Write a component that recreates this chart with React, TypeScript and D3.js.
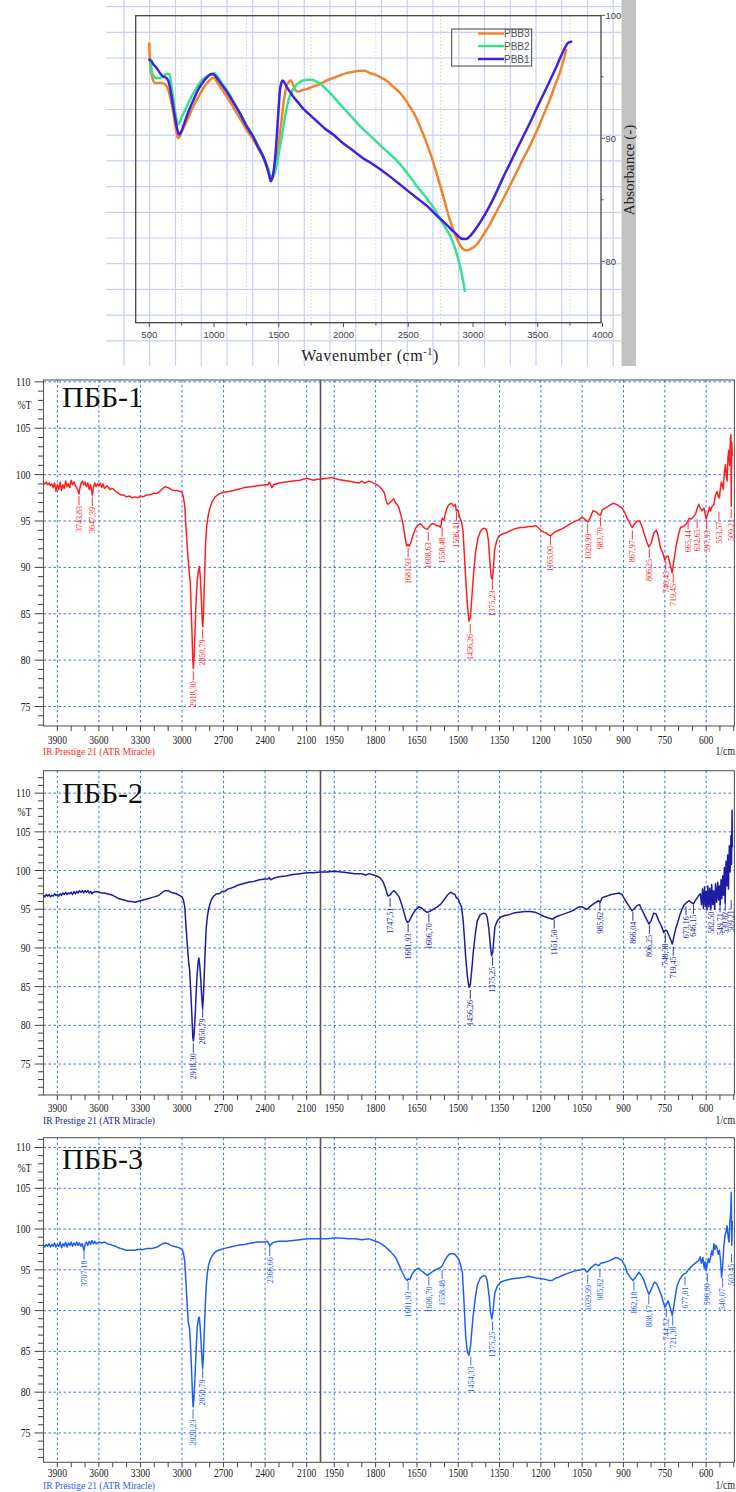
import React from 'react';
import * as d3 from 'd3';

type Pt = [number, number];

// ---------- top chart (absorbance, smoothed) ----------
const pbb3: Pt[] = [
  [499, 97.7], [506, 96.2], [515, 95.3], [524, 94.9], [545, 94.5], [570, 94.5], [596, 94.5], [620, 94.4], [640, 94.1],
  [660, 93.4], [686, 92.0], [706, 90.7], [718, 90.1], [725, 90.0], [733, 90.1], [750, 90.5], [780, 91.2], [815, 92.0],
  [850, 92.8], [892, 93.6], [925, 94.2], [956, 94.6], [990, 94.9], [1005, 94.9], [1021, 94.6], [1060, 94.0], [1098, 93.4],
  [1150, 92.5], [1201, 91.6], [1250, 90.7], [1303, 89.9], [1340, 89.2], [1380, 88.4], [1419, 87.3], [1434, 86.9],
  [1444, 86.8], [1455, 87.0], [1470, 87.6], [1490, 88.9], [1509, 90.4], [1528, 92.1], [1547, 93.6], [1565, 94.4],
  [1580, 94.6], [1593, 94.7], [1605, 94.5], [1616, 94.2], [1630, 93.9], [1650, 93.8], [1680, 93.9], [1714, 94.0],
  [1765, 94.2], [1817, 94.4], [1870, 94.7], [1920, 94.9], [1970, 95.1], [2022, 95.3], [2075, 95.4], [2125, 95.5],
  [2165, 95.5], [2203, 95.3], [2240, 95.2], [2280, 95.0], [2330, 94.7], [2383, 94.2], [2435, 93.7], [2486, 93.0],
  [2540, 92.1], [2589, 91.0], [2635, 89.8], [2679, 88.5], [2720, 87.1], [2756, 85.8], [2790, 84.5], [2820, 83.4],
  [2850, 82.5], [2877, 81.8], [2900, 81.3], [2923, 81.0], [2945, 80.9], [2962, 80.9], [2980, 81.0], [3000, 81.1],
  [3040, 81.5], [3077, 82.1], [3130, 83.0], [3180, 84.0], [3230, 85.0], [3283, 86.1], [3335, 87.2], [3386, 88.3],
  [3440, 89.4], [3489, 90.5], [3540, 91.8], [3592, 93.1], [3630, 94.2], [3669, 95.3], [3695, 96.2], [3720, 97.2],
];
const pbb2: Pt[] = [
  [506, 96.3], [515, 95.8], [522, 95.3], [532, 95.1], [550, 94.9], [570, 94.9], [590, 94.95], [609, 95.0], [625, 95.2],
  [640, 95.25], [655, 95.2], [664, 94.8], [673, 94.1], [686, 93.2], [699, 92.2], [710, 91.5], [719, 91.1], [727, 91.2],
  [738, 91.4], [750, 91.7], [790, 92.6], [827, 93.4], [865, 94.1], [904, 94.7], [940, 95.0], [981, 95.25], [1000, 95.3],
  [1021, 95.1], [1065, 94.4], [1111, 93.7], [1160, 92.8], [1213, 91.8], [1265, 90.8], [1316, 89.9], [1355, 89.1],
  [1393, 88.2], [1415, 87.6], [1431, 87.1], [1449, 86.8], [1462, 87.0], [1475, 87.4], [1497, 88.6], [1522, 90.1],
  [1547, 91.7], [1573, 93.0], [1600, 93.8], [1624, 94.2], [1655, 94.5], [1689, 94.7], [1720, 94.75], [1753, 94.75],
  [1785, 94.65], [1817, 94.45], [1870, 93.95], [1920, 93.4], [1970, 92.8], [2022, 92.2], [2075, 91.6], [2125, 91.0],
  [2165, 90.6], [2203, 90.23], [2250, 89.77], [2306, 89.2], [2360, 88.7], [2409, 88.2], [2460, 87.6], [2511, 86.9],
  [2560, 86.2], [2614, 85.5], [2665, 84.8], [2717, 84.0], [2760, 83.2], [2794, 82.6], [2830, 81.9], [2859, 81.1],
  [2880, 80.4], [2897, 79.7], [2912, 79.0], [2923, 78.4], [2930, 78.0], [2936, 77.6],
];
const pbb1: Pt[] = [
  [501, 96.4], [515, 96.3], [532, 96.0], [550, 95.8], [570, 95.5], [590, 95.2], [609, 95.0], [625, 94.95], [640, 94.8],
  [652, 94.5], [660, 94.1], [673, 93.3], [686, 92.5], [700, 91.6], [712, 90.9], [722, 90.5], [730, 90.3], [740, 90.4],
  [763, 91.0], [800, 92.1], [840, 93.1], [880, 94.0], [917, 94.6], [950, 95.0], [976, 95.2], [995, 95.2], [1007, 95.1],
  [1050, 94.5], [1098, 93.8], [1150, 92.9], [1201, 92.0], [1250, 91.0], [1303, 90.1], [1340, 89.3], [1380, 88.5],
  [1405, 87.8], [1419, 87.3], [1430, 86.8], [1437, 86.5], [1445, 86.6], [1457, 87.1], [1470, 88.2], [1483, 89.9],
  [1496, 92.0], [1509, 93.9], [1520, 94.5], [1529, 94.7], [1540, 94.6], [1560, 94.2], [1585, 93.8], [1611, 93.4],
  [1650, 92.9], [1689, 92.4], [1740, 91.9], [1792, 91.4], [1855, 90.8], [1920, 90.3], [1985, 89.7], [2048, 89.2],
  [2110, 88.7], [2177, 88.2], [2203, 88.05], [2280, 87.5], [2357, 86.9], [2435, 86.25], [2511, 85.6], [2590, 84.95],
  [2665, 84.3], [2730, 83.6], [2794, 83.0], [2840, 82.5], [2871, 82.2], [2900, 81.9], [2923, 81.8], [2945, 81.8],
  [2962, 81.9], [2990, 82.2], [3026, 82.7], [3075, 83.5], [3129, 84.5], [3180, 85.6], [3232, 86.8], [3283, 87.9],
  [3334, 89.0], [3385, 90.1], [3437, 91.2], [3490, 92.4], [3540, 93.5], [3590, 94.6], [3643, 95.8], [3680, 96.7],
  [3707, 97.3], [3733, 97.75], [3759, 97.85],
];
const topSeries = ['PBB3', 'PBB2', 'PBB1'];
const topColors = ['#f0842c', '#36e28e', '#3d22de'];
const topXTicks = [500, 1000, 1500, 2000, 2500, 3000, 3500, 4000];
const topXMinor = [750, 1250, 1750, 2250, 2750, 3250, 3750];
const topYLabels = [80, 90, 100];
const topYMinor = [85, 95];

// ---------- IR spectra (%T) ----------
const spec1: Pt[] = [
  [4000, 99.1], [3990, 99.0], [3980, 99.2], [3970, 98.9], [3960, 99.1], [3950, 98.8], [3940, 99.0], [3930, 98.6],
  [3920, 99.1], [3910, 98.2], [3900, 98.9], [3890, 98.4], [3880, 99.2], [3870, 98.3], [3860, 98.9], [3850, 98.5],
  [3840, 99.3], [3830, 98.7], [3820, 99.0], [3810, 98.6], [3800, 99.4], [3790, 98.9], [3780, 99.2], [3770, 98.8],
  [3760, 98.6], [3750, 98.2], [3744, 97.9], [3738, 98.5], [3730, 99.0], [3720, 99.3], [3710, 98.9], [3700, 99.2],
  [3690, 98.7], [3680, 99.1], [3670, 98.4], [3660, 98.9], [3648, 97.8], [3640, 98.6], [3630, 99.1], [3620, 98.7],
  [3610, 99.0], [3600, 98.8], [3590, 99.1], [3580, 98.6], [3570, 99.0], [3560, 98.5], [3540, 98.8], [3520, 98.4],
  [3500, 98.5], [3480, 98.2], [3460, 98.0], [3440, 97.8], [3420, 97.8], [3400, 97.6], [3380, 97.7], [3360, 97.5],
  [3340, 97.6], [3320, 97.5], [3300, 97.7], [3280, 97.6], [3260, 97.8], [3240, 97.8], [3220, 97.9], [3200, 98.0],
  [3180, 98.0], [3160, 98.2], [3140, 98.5], [3120, 98.7], [3100, 98.6], [3080, 98.4], [3060, 98.3], [3040, 98.3],
  [3020, 98.2], [3000, 98.1], [2990, 97.6], [2980, 96.6], [2970, 94.0], [2960, 91.8], [2950, 89.8], [2940, 88.4],
  [2935, 86.0], [2928, 83.0], [2922, 80.0], [2918, 79.1], [2912, 80.5], [2905, 83.6], [2897, 86.8], [2890, 88.6],
  [2880, 89.8], [2875, 90.1], [2868, 89.0], [2860, 86.5], [2853, 84.0], [2850, 83.6], [2845, 85.0], [2838, 88.5],
  [2830, 92.5], [2822, 94.4], [2812, 95.5], [2800, 96.3], [2785, 97.0], [2765, 97.5], [2745, 97.8], [2720, 98.0],
  [2700, 98.1], [2650, 98.2], [2600, 98.4], [2550, 98.6], [2500, 98.7], [2450, 98.8], [2400, 98.9], [2380, 98.9],
  [2370, 99.2], [2360, 98.9], [2350, 98.6], [2340, 98.9], [2300, 99.1], [2250, 99.2], [2200, 99.3], [2150, 99.4],
  [2100, 99.6], [2075, 99.5], [2050, 99.4], [2025, 99.5], [2000, 99.5], [1975, 99.6], [1960, 99.7], [1940, 99.5],
  [1920, 99.4], [1900, 99.3], [1880, 99.2], [1860, 99.1], [1850, 99.3], [1840, 99.1], [1824, 99.3], [1800, 99.0],
  [1785, 98.7], [1776, 98.4], [1768, 98.0], [1760, 97.0], [1755, 96.8], [1748, 97.0], [1740, 97.2], [1734, 97.4],
  [1728, 97.0], [1720, 96.7], [1715, 96.4], [1708, 95.6], [1700, 94.6], [1693, 93.2], [1687, 92.3], [1682, 92.5],
  [1678, 92.3], [1673, 92.6], [1665, 93.4], [1655, 94.2], [1645, 94.6], [1637, 94.7], [1628, 94.4], [1620, 94.2],
  [1613, 94.1], [1605, 94.4], [1596, 94.7], [1588, 94.7], [1578, 94.5], [1570, 94.5], [1564, 94.3], [1558, 95.3],
  [1552, 95.1], [1545, 96.0], [1538, 96.6], [1532, 96.8], [1524, 96.9], [1516, 96.6], [1510, 96.8], [1507, 96.1],
  [1502, 96.2], [1495, 95.4], [1488, 94.9], [1483, 94.0], [1478, 91.5], [1473, 88.8], [1467, 86.0], [1461, 84.2],
  [1456, 84.6], [1450, 87.0], [1443, 89.8], [1437, 91.7], [1428, 93.2], [1419, 93.9], [1410, 94.2], [1401, 94.2],
  [1395, 93.8], [1391, 93.0], [1386, 91.0], [1380, 88.9], [1376, 88.7], [1372, 90.0], [1368, 91.9], [1360, 92.9],
  [1352, 93.4], [1340, 93.6], [1328, 93.7], [1315, 93.9], [1300, 94.1], [1290, 94.2], [1275, 94.3], [1260, 94.3],
  [1245, 94.4], [1230, 94.4], [1219, 94.5], [1210, 94.3], [1200, 94.0], [1190, 93.8], [1180, 93.7], [1172, 93.5],
  [1165, 93.4], [1158, 93.6], [1150, 93.8], [1135, 94.0], [1120, 94.2], [1098, 94.6], [1080, 94.9], [1065, 95.1],
  [1050, 95.4], [1040, 95.2], [1030, 94.9], [1020, 95.4], [1011, 96.1], [1000, 96.0], [990, 95.7], [984, 95.6],
  [977, 96.2], [960, 96.5], [945, 96.8], [935, 96.9], [920, 96.7], [905, 96.4], [895, 95.9], [887, 95.3], [878, 94.8],
  [869, 94.3], [860, 94.7], [850, 95.0], [842, 95.0], [834, 94.5], [826, 93.7], [816, 92.8], [808, 92.2], [800, 92.6],
  [790, 93.7], [781, 94.0], [774, 93.4], [766, 92.1], [758, 91.6], [750, 90.8], [744, 91.2], [738, 91.2], [730, 90.2],
  [723, 89.4], [718, 90.6], [709, 92.3], [700, 93.6], [693, 94.3], [684, 94.4], [675, 94.6], [668, 94.9], [661, 95.3],
  [653, 95.2], [645, 95.5], [638, 95.8], [632, 96.4], [627, 96.8], [621, 96.4], [615, 96.1], [608, 96.4], [600, 95.2],
  [594, 95.8], [588, 96.5], [584, 96.1], [578, 96.6], [572, 96.8], [566, 97.8], [560, 98.2], [556, 97.6], [552, 97.5],
  [548, 98.6], [545, 99.2], [542, 99.0], [538, 98.4], [534, 100.2], [530, 101.1], [527, 99.8], [524, 99.3], [521, 101.8],
  [518, 102.6], [515, 101.0], [512, 104.0], [510, 104.3], [509, 96.6], [507, 103.5], [505, 102.0],
];
const spec2: Pt[] = [
  [4000, 96.8], [3990, 96.6], [3980, 96.9], [3970, 96.7], [3960, 96.9], [3950, 96.6], [3940, 96.8], [3930, 96.7],
  [3920, 97.0], [3910, 96.8], [3900, 96.9], [3890, 96.7], [3880, 97.0], [3870, 96.8], [3860, 97.1], [3850, 96.9],
  [3840, 97.2], [3830, 96.9], [3820, 97.1], [3810, 97.0], [3800, 97.2], [3790, 96.9], [3780, 97.3], [3770, 97.0],
  [3760, 97.3], [3750, 97.1], [3740, 97.4], [3730, 97.2], [3720, 97.4], [3710, 97.1], [3700, 97.4], [3690, 97.2],
  [3680, 97.4], [3670, 97.1], [3660, 97.3], [3650, 97.0], [3640, 97.2], [3620, 97.3], [3600, 97.2], [3580, 97.1],
  [3560, 97.1], [3540, 97.0], [3520, 96.9], [3500, 96.8], [3480, 96.6], [3460, 96.4], [3440, 96.3], [3420, 96.2],
  [3400, 96.1], [3380, 96.0], [3360, 96.0], [3340, 95.9], [3320, 96.0], [3300, 96.1], [3280, 96.2], [3260, 96.3],
  [3240, 96.4], [3220, 96.5], [3200, 96.6], [3180, 96.7], [3160, 96.9], [3140, 97.2], [3120, 97.4], [3100, 97.4],
  [3080, 97.2], [3060, 97.1], [3040, 97.0], [3020, 96.8], [3000, 96.6], [2990, 96.2], [2980, 95.3], [2970, 92.5],
  [2960, 90.0], [2950, 87.8], [2945, 87.2], [2937, 84.5], [2928, 81.0], [2922, 78.5], [2918, 78.0], [2912, 79.0],
  [2905, 81.2], [2897, 84.5], [2890, 86.8], [2882, 88.4], [2878, 88.7], [2872, 87.8], [2865, 86.0], [2857, 83.5],
  [2851, 82.2], [2846, 83.5], [2840, 86.2], [2832, 90.0], [2825, 92.6], [2817, 94.0], [2808, 95.0], [2795, 95.9],
  [2780, 96.5], [2765, 96.8], [2750, 97.0], [2730, 97.0], [2710, 97.3], [2690, 97.3], [2670, 97.6], [2650, 97.7],
  [2620, 97.9], [2600, 98.1], [2560, 98.3], [2520, 98.5], [2480, 98.6], [2440, 98.8], [2400, 98.9], [2380, 98.9],
  [2370, 99.1], [2360, 98.8], [2340, 99.0], [2300, 99.2], [2250, 99.3], [2200, 99.5], [2150, 99.6], [2100, 99.7],
  [2050, 99.7], [2000, 99.8], [1975, 99.8], [1950, 99.9], [1925, 99.8], [1900, 99.7], [1875, 99.6], [1850, 99.6],
  [1835, 99.4], [1824, 99.6], [1805, 99.4], [1790, 99.2], [1782, 99.0], [1772, 98.5], [1764, 97.7], [1758, 97.0],
  [1754, 96.7], [1746, 96.9], [1740, 97.2], [1733, 97.4], [1725, 97.1], [1715, 96.6], [1705, 95.6], [1697, 94.6],
  [1690, 93.7], [1685, 93.3], [1679, 93.4], [1673, 93.8], [1665, 94.4], [1655, 94.9], [1643, 95.3], [1635, 95.2],
  [1625, 94.9], [1613, 94.6], [1605, 94.7], [1595, 94.9], [1585, 95.1], [1576, 95.3], [1565, 95.6], [1552, 96.2],
  [1540, 96.8], [1528, 97.2], [1518, 97.0], [1512, 96.9], [1507, 96.5], [1500, 96.3], [1492, 95.6], [1488, 95.3],
  [1482, 93.5], [1477, 91.0], [1473, 88.8], [1467, 86.4], [1461, 84.9], [1456, 85.3], [1450, 87.5], [1445, 89.6],
  [1438, 91.8], [1431, 93.5], [1420, 94.3], [1407, 94.5], [1400, 94.4], [1395, 94.0], [1389, 92.5], [1383, 90.2],
  [1379, 89.0], [1375, 89.4], [1371, 91.0], [1367, 92.7], [1358, 93.5], [1346, 94.0], [1330, 94.2], [1316, 94.3],
  [1300, 94.5], [1280, 94.6], [1256, 94.7], [1240, 94.7], [1220, 94.6], [1207, 94.4], [1190, 94.1], [1175, 93.9],
  [1165, 93.8], [1159, 93.7], [1150, 93.9], [1140, 94.1], [1123, 94.3], [1100, 94.6], [1080, 94.9], [1062, 95.3],
  [1050, 95.3], [1040, 95.1], [1032, 95.0], [1020, 95.4], [1005, 95.8], [995, 96.0], [990, 96.1], [985, 95.9],
  [977, 96.5], [960, 96.7], [945, 96.9], [930, 97.0], [917, 97.1], [905, 96.9], [893, 96.1], [880, 95.4], [869, 94.8],
  [860, 95.1], [850, 95.5], [842, 95.6], [834, 95.0], [826, 94.4], [815, 93.6], [808, 93.1], [800, 93.5], [790, 94.5],
  [782, 94.4], [772, 93.5], [762, 92.8], [754, 92.0], [748, 92.3], [742, 92.2], [735, 91.6], [728, 91.0], [723, 90.5],
  [718, 91.3], [710, 92.6], [705, 93.1], [695, 94.3], [688, 95.0], [681, 95.5], [673, 95.8], [663, 96.1], [655, 95.9],
  [646, 95.7], [638, 96.2], [630, 96.6], [625, 96.9], [621, 97.0], [617, 95.6], [613, 97.6], [610, 95.1], [606, 97.9],
  [603, 95.4], [600, 97.3], [597, 94.9], [594, 98.0], [590, 95.3], [587, 97.7], [583, 95.1], [580, 98.2], [576, 95.6],
  [573, 97.4], [569, 95.0], [566, 98.3], [562, 95.9], [558, 98.5], [555, 96.2], [552, 98.0], [549, 95.6], [546, 98.8],
  [543, 96.4], [540, 99.3], [537, 96.8], [534, 100.4], [531, 95.8], [528, 101.2], [525, 98.0], [522, 102.0], [519, 97.6],
  [516, 103.2], [513, 99.8], [510, 104.5], [508, 100.8], [506, 107.8], [505, 103.0],
];
const spec3: Pt[] = [
  [4000, 98.0], [3990, 97.8], [3980, 98.1], [3970, 97.9], [3960, 98.2], [3950, 97.8], [3940, 98.1], [3930, 97.9],
  [3920, 98.3], [3910, 97.8], [3900, 98.1], [3890, 97.9], [3880, 98.4], [3870, 97.7], [3860, 98.2], [3850, 97.9],
  [3840, 98.4], [3830, 97.8], [3820, 98.3], [3810, 98.0], [3800, 98.4], [3790, 97.9], [3780, 98.3], [3770, 98.0],
  [3760, 98.4], [3750, 98.0], [3740, 98.3], [3730, 97.9], [3720, 98.2], [3708, 97.4], [3700, 98.1], [3690, 98.4],
  [3680, 98.0], [3670, 98.5], [3660, 98.1], [3650, 98.6], [3640, 98.2], [3630, 98.5], [3620, 98.2], [3600, 98.4],
  [3580, 98.3], [3560, 98.4], [3540, 98.2], [3520, 98.1], [3500, 98.0], [3480, 97.9], [3460, 97.7], [3440, 97.6],
  [3420, 97.5], [3400, 97.4], [3380, 97.4], [3360, 97.4], [3340, 97.4], [3320, 97.5], [3300, 97.5], [3280, 97.5],
  [3260, 97.6], [3240, 97.6], [3220, 97.6], [3200, 97.7], [3180, 97.8], [3160, 98.0], [3140, 98.2], [3120, 98.3],
  [3100, 98.2], [3080, 98.0], [3060, 97.9], [3040, 97.8], [3020, 97.7], [3000, 97.5], [2990, 97.1], [2980, 96.0],
  [2970, 93.1], [2962, 90.5], [2955, 88.6], [2945, 87.8], [2938, 85.5], [2930, 82.3], [2924, 79.5], [2920, 78.2],
  [2914, 79.2], [2907, 81.5], [2898, 85.2], [2890, 88.0], [2880, 89.1], [2876, 89.2], [2870, 88.3], [2863, 86.4],
  [2856, 84.0], [2851, 82.9], [2846, 84.2], [2840, 87.0], [2832, 90.6], [2825, 93.0], [2817, 94.6], [2808, 95.6],
  [2795, 96.3], [2780, 96.8], [2765, 97.1], [2750, 97.3], [2720, 97.5], [2700, 97.6], [2650, 97.8], [2600, 98.0],
  [2550, 98.1], [2500, 98.3], [2450, 98.4], [2400, 98.4], [2385, 98.5], [2372, 98.2], [2366, 97.9], [2358, 98.1],
  [2345, 98.3], [2330, 98.4], [2300, 98.5], [2250, 98.5], [2200, 98.6], [2150, 98.7], [2100, 98.8], [2050, 98.8],
  [2000, 98.8], [1975, 98.8], [1950, 98.9], [1925, 98.9], [1900, 98.8], [1875, 98.8], [1850, 98.7], [1824, 98.8],
  [1800, 98.5], [1785, 98.3], [1764, 97.8], [1745, 97.2], [1727, 96.5], [1715, 95.6], [1703, 94.7], [1693, 94.0],
  [1685, 93.7], [1681, 93.9], [1676, 93.8], [1667, 94.5], [1655, 95.0], [1643, 95.2], [1630, 94.8], [1620, 94.5],
  [1613, 94.3], [1605, 94.5], [1588, 94.9], [1575, 95.1], [1564, 95.3], [1558, 95.5], [1548, 96.2], [1534, 96.9],
  [1522, 97.0], [1512, 96.9], [1505, 96.6], [1498, 96.3], [1490, 95.4], [1485, 94.7], [1479, 91.0], [1473, 86.9],
  [1467, 85.0], [1461, 84.5], [1455, 85.8], [1447, 89.0], [1438, 91.6], [1431, 93.1], [1420, 94.0], [1407, 94.3],
  [1400, 94.2], [1395, 93.7], [1388, 91.8], [1382, 89.6], [1378, 89.0], [1374, 89.8], [1370, 91.3], [1367, 92.2],
  [1358, 93.0], [1346, 93.5], [1330, 93.7], [1304, 93.9], [1280, 94.0], [1260, 94.1], [1244, 94.2], [1230, 94.1],
  [1215, 94.0], [1195, 93.9], [1180, 93.8], [1170, 93.7], [1159, 93.7], [1145, 94.0], [1135, 94.1], [1123, 94.3],
  [1100, 94.6], [1074, 94.9], [1055, 95.0], [1042, 95.1], [1032, 94.7], [1020, 95.2], [1002, 95.7], [995, 95.6],
  [990, 95.5], [983, 95.8], [970, 95.9], [953, 96.1], [940, 96.3], [929, 96.5], [917, 96.4], [905, 96.1], [895, 95.5],
  [887, 94.7], [876, 94.1], [866, 93.7], [856, 94.1], [844, 94.7], [835, 94.3], [826, 93.7], [816, 92.7], [808, 92.0],
  [798, 92.7], [788, 93.5], [780, 93.3], [772, 92.7], [762, 91.8], [750, 90.4], [744, 90.8], [738, 91.2], [730, 90.3],
  [723, 89.4], [718, 90.4], [710, 92.2], [705, 93.1], [695, 93.9], [687, 94.3], [681, 94.5], [673, 94.6], [665, 95.0],
  [657, 95.3], [648, 95.6], [640, 95.8], [633, 96.0], [627, 96.1], [622, 96.6], [617, 95.8], [612, 96.5], [607, 95.2],
  [603, 96.0], [600, 94.9], [596, 95.6], [592, 96.4], [588, 95.9], [584, 96.5], [580, 97.3], [576, 96.8], [572, 98.2],
  [568, 97.5], [564, 98.0], [560, 97.6], [556, 96.9], [552, 97.4], [548, 96.2], [544, 94.1], [540, 95.5], [536, 97.8],
  [532, 99.2], [528, 99.6], [524, 100.4], [520, 99.0], [517, 98.4], [514, 100.8], [511, 102.0], [509, 104.5],
  [507, 98.0], [505, 101.0],
];

// peak labels: wavenumber and %T where the leader starts
const peaks1Wn = [3743.83, 3647.39, 2918.30, 2850.79, 1681.93, 1608.63, 1558.48, 1506.41, 1456.26, 1375.23, 1165.00,
  1029.99, 983.70, 867.97, 806.25, 746.45, 719.45, 665.44, 632.65, 597.93, 553.57, 509.21];
const peaks1T = [97.8, 97.7, 78.9, 83.4, 92.2, 93.9, 94.4, 96.1, 84.0, 88.7, 93.5, 94.8, 95.5, 94.1, 92.1, 90.8, 89.4,
  95.2, 95.3, 95.2, 96.1, 96.4];
const peaks2Wn = [2918.30, 2850.79, 1747.51, 1681.93, 1606.70, 1456.26, 1375.25, 1151.50, 985.62, 866.04, 806.25,
  748.38, 719.45, 673.16, 646.15, 582.50, 549.71, 530.82, 509.21];
const peaks2T = [77.8, 82.3, 96.6, 93.3, 94.6, 84.7, 89.0, 93.8, 96.1, 94.8, 93.1, 92.0, 90.3, 95.5, 95.7, 96.1, 95.9,
  96.1, 96.3];
const peaks3Wn = [3707.18, 2920.23, 2850.79, 2366.66, 1681.93, 1606.70, 1558.48, 1454.33, 1375.25, 1029.99, 985.62,
  862.18, 808.17, 744.52, 721.38, 677.01, 596.00, 540.07, 503.45];
const peaks3T = [97.5, 78.0, 82.9, 97.9, 93.7, 94.3, 95.1, 84.5, 88.8, 94.5, 95.3, 93.7, 92.0, 90.4, 89.4, 94.3, 94.7,
  94.1, 97.1];

const irMajorLeft = [3900, 3600, 3300, 3000, 2700, 2400, 2100];
const irMajorRight = [1950, 1800, 1650, 1500, 1350, 1200, 1050, 900, 750, 600];
const irYLabels = [75, 80, 85, 90, 95, 100, 105, 110];

const SERIF = '"Liberation Serif", "Times New Roman", serif';
const SANS = '"Liberation Sans", Arial, sans-serif';

const xIR = d3.scaleLinear().domain([4000, 2000, 497.5]).range([43.5, 320.5, 734.4]);
const fmtPeak = (v: number) => v.toFixed(2).replace('.', ',');

type PanelProps = {
  id: string; data: Pt[]; peaksWn: number[]; peaksT: number[]; color: string; title: string;
  top: number; bottom: number; yDomain: [number, number]; titleY: number; footY: number; tickY: number;
};

const IRPanel = ({ id, data, peaksWn, peaksT, color, title, top, bottom, yDomain, titleY, footY, tickY }: PanelProps) => {
  const y = d3.scaleLinear().domain(yDomain).range([bottom, top]);
  const left = xIR(4000), right = 734.4;
  const line = d3.line<Pt>().x(d => xIR(d[0])).y(d => y(d[1]));
  const minorLeft = d3.range(3900, 2000, -100);
  const minorRight = d3.range(1950, 497, -50);
  const yTicks = d3.range(Math.ceil(yDomain[0]), Math.floor(yDomain[1]) + 1);
  const grid = '#3f70f0';
  return (
    <g>
      <defs>
        <clipPath id={id}><rect x={left} y={top} width={right - left} height={bottom - top} /></clipPath>
      </defs>
      {/* grid */}
      {irYLabels.map(v => (
        <line key={'h' + v} x1={left} x2={right} y1={y(v)} y2={y(v)} stroke={grid} strokeWidth={1} strokeDasharray="2.5,2.5" />
      ))}
      {[...irMajorLeft, ...irMajorRight].map(v => (
        <line key={'v' + v} x1={xIR(v)} x2={xIR(v)} y1={top} y2={bottom} stroke={grid} strokeWidth={1} strokeDasharray="2.5,2.5" />
      ))}
      <line x1={xIR(2000)} x2={xIR(2000)} y1={top} y2={bottom} stroke="#555" strokeWidth={1.6} />
      {/* frame */}
      <rect x={left} y={top} width={right - left} height={bottom - top} fill="none" stroke="#5a5a5a" strokeWidth={1.1} />
      {/* y ticks */}
      {yTicks.map(v => (
        <line key={'yt' + v} x1={v % 5 === 0 ? left - 9 : left - 5.5} x2={left} y1={y(v)} y2={y(v)} stroke="#444" strokeWidth={1} />
      ))}
      {irYLabels.map(v => (
        <text key={'yl' + v} transform={`translate(30.5,${y(v) + 4}) scale(0.82,1)`} textAnchor="end" fontSize={12} fontFamily={SERIF} fill="#222">{v}</text>
      ))}
      <text transform={`translate(31.5,${y(107.5) + 4}) scale(0.85,1)`} textAnchor="end" fontSize={11.5} fontFamily={SERIF} fill="#222">%T</text>
      {/* x ticks */}
      {[...minorLeft, ...minorRight].map(v => (
        <line key={'xt' + v} x1={xIR(v)} x2={xIR(v)} y1={bottom} y2={bottom + 5} stroke="#444" strokeWidth={1} />
      ))}
      {[...irMajorLeft, ...irMajorRight].map(v => (
        <text key={'xl' + v} transform={`translate(${xIR(v)},${tickY}) scale(0.8,1)`} textAnchor="middle" fontSize={12} fontFamily={SERIF} fill="#222">{v}</text>
      ))}
      <text x={43} y={footY} fontSize={10.5} fontFamily={SERIF} fill={color} textLength={112} lengthAdjust="spacingAndGlyphs">IR Prestige 21 (ATR Miracle)</text>
      <text transform={`translate(735,${footY}) scale(0.85,1)`} textAnchor="end" fontSize={11.5} fontFamily={SERIF} fill="#222">1/cm</text>
      {/* spectrum */}
      <path d={line(data) || ''} fill="none" stroke={color} strokeWidth={1.5} strokeLinejoin="round" clipPath={`url(#${id})`} />
      {/* peak labels */}
      {peaksWn.map((wn, i) => {
        const px = Math.min(xIR(wn), 731.5), py = y(peaksT[i]);
        return (
          <g key={'pk' + i}>
            <line x1={px} x2={px} y1={py + 1} y2={py + 10} stroke={color} strokeWidth={0.9} />
            <text transform={`translate(${px + 2.8},${py + 11}) rotate(-90)`} textAnchor="end" fontSize={8} fontFamily={SERIF} fill={color}>{fmtPeak(wn)}</text>
          </g>
        );
      })}
      <text x={62} y={titleY} fontSize={30} fontFamily={SERIF} fill="#111">{title}</text>
    </g>
  );
};

const TopChart = () => {
  const x = d3.scaleLinear().domain([395, 4000]).range([135.7, 602.5]);
  const y = d3.scaleLinear().domain([75, 100]).range([322.7, 15.3]);
  const line = d3.line<Pt>().x(d => x(d[0])).y(d => y(d[1])).curve(d3.curveMonotoneX);
  const gx = d3.range(124, 621, 25.75);
  const gy = d3.range(6.7, 366, 25.7);
  const series = [pbb3, pbb2, pbb1];
  const legendY = [33.5, 46, 59];
  return (
    <g>
      <rect x={106} y={0} width={515} height={366} fill="#fff" />
      {gx.map((v, i) => <line key={'gx' + i} x1={v} x2={v} y1={0} y2={366} stroke="#c9cff6" strokeWidth={1.2} />)}
      {gy.map((v, i) => <line key={'gy' + i} x1={106} x2={621} y1={v} y2={v} stroke="#c9cff6" strokeWidth={1.2} />)}
      <rect x={621.5} y={0} width={14.5} height={366} fill="#c2c2c2" />
      {topXMinor.map(v => (
        <line key={'dm' + v} x1={x(v)} x2={x(v)} y1={16} y2={322} stroke="#cfcfcf" strokeWidth={1} strokeDasharray="1.5,2" />
      ))}
      <rect x={135.7} y={15.7} width={601 - 135.7} height={322.7 - 15.7} fill="none" stroke="#444" strokeWidth={1.3} />
      {topXTicks.map(v => (
        <g key={'tx' + v}>
          <line x1={x(v)} x2={x(v)} y1={322.7} y2={327} stroke="#555" strokeWidth={1} />
          <text x={x(v)} y={338} textAnchor="middle" fontSize={9.5} fontFamily={SANS} fill="#444">{v}</text>
        </g>
      ))}
      {topXMinor.map(v => (
        <line key={'txm' + v} x1={x(v)} x2={x(v)} y1={322.7} y2={325.5} stroke="#555" strokeWidth={1} />
      ))}
      {topYLabels.map(v => (
        <g key={'ty' + v}>
          <line x1={601} x2={605} y1={y(v)} y2={y(v)} stroke="#555" strokeWidth={1} />
          <text x={605.5} y={y(v) + 3.5} fontSize={9.5} fontFamily={SANS} fill="#444">{v}</text>
        </g>
      ))}
      {topYMinor.map(v => (
        <line key={'tym' + v} x1={601} x2={603.5} y1={y(v)} y2={y(v)} stroke="#555" strokeWidth={1} />
      ))}
      {series.map((s, i) => (
        <path key={topSeries[i]} d={line(s) || ''} fill="none" stroke={topColors[i]} strokeWidth={2.5} strokeLinecap="round" />
      ))}
      <rect x={451.7} y={29} width={80} height={37} fill="none" stroke="#444" strokeWidth={1} />
      {topSeries.map((name, i) => (
        <g key={'lg' + name}>
          <line x1={478} x2={504} y1={legendY[i]} y2={legendY[i]} stroke={topColors[i]} strokeWidth={2.4} />
          <text x={504} y={legendY[i] + 3.5} fontSize={10} fontFamily={SANS} fill="#555">{name}</text>
        </g>
      ))}
      <text transform="translate(628.8,170) rotate(-90)" textAnchor="middle" dominantBaseline="central" fontSize={15} fontFamily={SERIF} fill="#222">Absorbance (-)</text>
      <text x={370} y={361} textAnchor="middle" fontSize={16} fontFamily={SERIF} fill="#222" letterSpacing={0.6}>
        Wavenumber (cm<tspan dy={-6} fontSize={10}>-1</tspan><tspan dy={6}>)</tspan>
      </text>
    </g>
  );
};

export default function App() {
  return (
    <svg width={736} height={1492} style={{ position: 'absolute', left: 0, top: 0, background: '#fff' }}>
      <rect x={0} y={0} width={736} height={1492} fill="#fff" />
      <TopChart />
      <IRPanel id="c1" data={spec1} peaksWn={peaks1Wn} peaksT={peaks1T} color="#ff1f1f" title="ПББ-1"
        top={380} bottom={726} yDomain={[72.9, 110.2]} titleY={406.5} footY={755} tickY={743.5} />
      <IRPanel id="c2" data={spec2} peaksWn={peaks2Wn} peaksT={peaks2T} color="#1d1da3" title="ПББ-2"
        top={770.7} bottom={1095} yDomain={[71, 112.9]} titleY={803} footY={1123.5} tickY={1112} />
      <IRPanel id="c3" data={spec3} peaksWn={peaks3Wn} peaksT={peaks3T} color="#1f5ef5" title="ПББ-3"
        top={1137.7} bottom={1462.3} yDomain={[71.4, 111.2]} titleY={1169} footY={1489.3} tickY={1477} />
    </svg>
  );
}
